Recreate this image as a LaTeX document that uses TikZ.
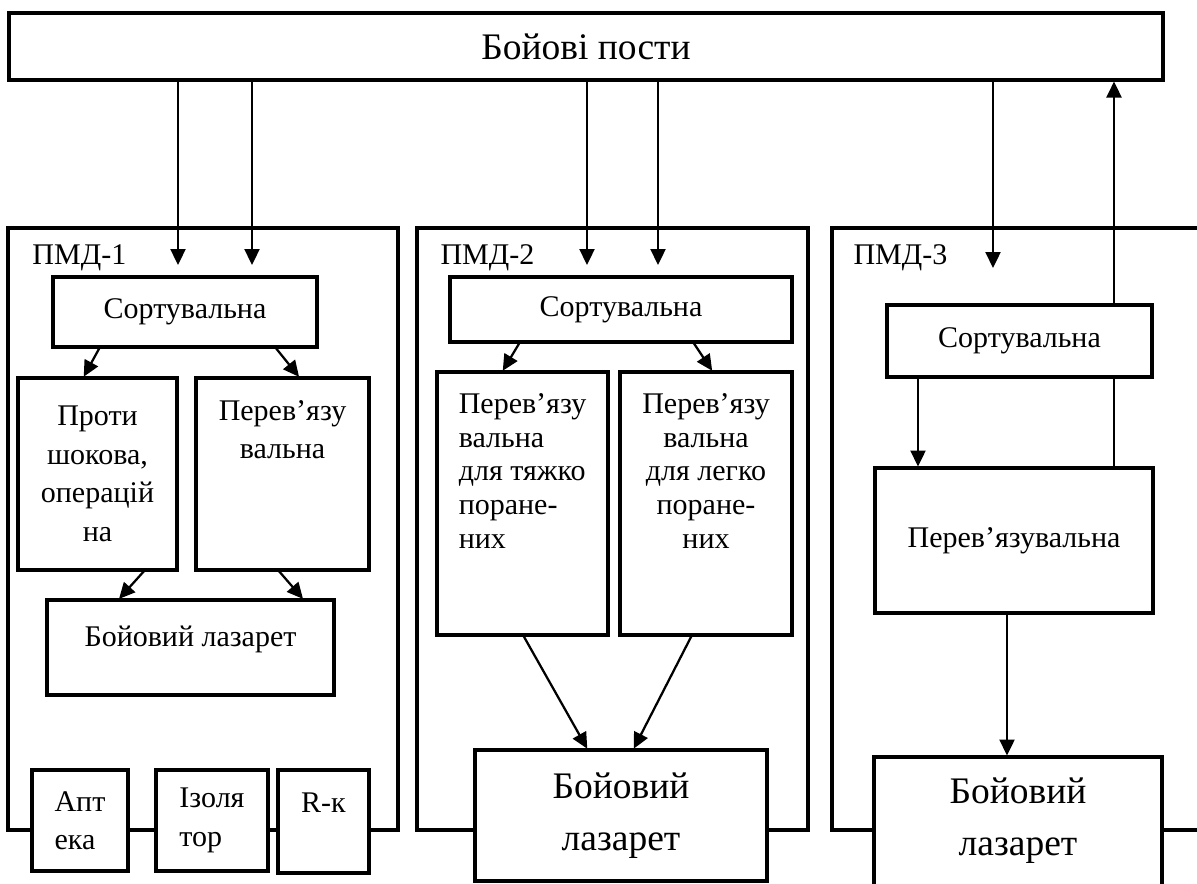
\documentclass[tikz,border=0pt]{standalone}
\usepackage{fontspec}
\setmainfont{Liberation Serif}
\usetikzlibrary{arrows.meta}

\begin{document}
\begin{tikzpicture}[x=0.4pt, y=-0.4pt, >={Triangle[length=6.4pt,width=6pt]},
    box/.style={rectangle, draw, line width=1.6pt, fill=white, inner sep=0pt, outer sep=0pt, align=center, font=\fontsize{12}{15.4}\selectfont},
    frame/.style={rectangle, draw, line width=1.6pt, inner sep=0pt, outer sep=0pt},
    sz/.style 2 args={minimum width=#1*0.4pt, minimum height=#2*0.4pt},
    tag/.style={anchor=west, inner sep=0pt, font=\fontsize{12}{15}\selectfont},
    toplab/.style={anchor=north, align=center, inner sep=0pt, yshift=-8.8pt, font=\fontsize{12}{15.4}\selectfont},
    big/.style={font=\fontsize{15}{21}\selectfont},
    arr/.style={->, line width=0.9pt, shorten >=0.6pt}]
    \useasboundingbox (0,0) rectangle (1197,883);

    % Combat posts
    \node[box, big, sz={1154}{67}] (top) at (586,46.5) {Бойові пости};

    % PMD-1
    \node[frame, sz={390}{602}] (pmd1) at (203,529) {};
    \node[tag] (tag1) at (32,258) {ПМД-1};
    \node[box, sz={264}{70}] (sort1) at (185,312) {Сортувальна};
    \node[box, sz={159}{192}] (shock) at (97.5,474) {Проти\\шокова,\\операцій\\на};
    \node[box, sz={173}{192}, label={[toplab]north:Перев’язу\\вальна}] (dress1) at (282.5,474) {};
    \node[box, sz={287}{95}, label={[toplab, yshift=-1.2pt]north:Бойовий лазарет}] (bl1) at (190.5,647.5) {};
    \node[box, sz={96}{101}, align=left] (apt) at (80,820.5) {Апт\\ека};
    \node[box, sz={112}{101}, align=left] (izol) at (212,820.5) {Ізоля\\тор};
    \node[box, sz={91}{103}, label={[toplab]north:R-к}] (rk) at (323.5,821.5) {};

    \draw[arr] ([xshift=18.8pt]sort1.south west) -- ([xshift=26pt]shock.north west);
    \draw[arr] ([xshift=88.8pt]sort1.south west) -- ([xshift=41.6pt]dress1.north west);
    \draw[arr] ([xshift=50.8pt]shock.south west) -- ([xshift=28.4pt]bl1.north west);
    \draw[arr] ([xshift=32.8pt]dress1.south west) -- ([xshift=102.8pt]bl1.north west);

    % PMD-2
    \node[frame, sz={391}{602}] (pmd2) at (612.5,529) {};
    \node[tag] (tag2) at (440,258) {ПМД-2};
    \node[box, sz={342}{65}] (sort2) at (621,309.5) {Сортувальна};
    \node[box, sz={171}{263}, label={[toplab, align=left, yshift=0.4pt, font=\fontsize{12}{13.5}\selectfont]north:Перев’язу\\вальна\\для тяжко\\поране-\\них}] (heavy) at (522.5,503.5) {};
    \node[box, sz={172}{263}, label={[toplab, yshift=0.4pt, font=\fontsize{12}{13.5}\selectfont]north:Перев’язу\\вальна\\для легко\\поране-\\них}] (light) at (706,503.5) {};
    \node[box, big, sz={292}{131}] (bl2) at (621,815.5) {Бойовий\\лазарет};

    \draw[arr] ([xshift=28pt]sort2.south west) -- ([xshift=26pt]heavy.north west);
    \draw[arr] ([xshift=97.2pt]sort2.south west) -- ([xshift=37.2pt]light.north west);
    \draw[arr] ([xshift=34.4pt]heavy.south west) -- ([xshift=45.2pt]bl2.north west);
    \draw[arr] ([xshift=28.8pt]light.south west) -- ([xshift=63.2pt]bl2.north west);

    % PMD-3 (open to the right)
    \draw[line width=1.6pt] (1210,228) -| (832,830) -- (1210,830);
    \node[tag] (tag3) at (853,258) {ПМД-3};
    \node[box, sz={265}{72}] (sort3) at (1019.5,341) {Сортувальна};
    \node[box, sz={278}{145}] (dress3) at (1014,540.5) {Перев’язувальна};
    \node[box, sz={288}{138}, label={[toplab, yshift=0.8pt, font=\fontsize{15}{21}\selectfont]north:Бойовий\\лазарет}] (bl3) at (1018,826) {};

    \draw[arr] (sort3.south -| 918,0) -- (dress3.north -| 918,0);
    \draw[arr] (dress3.south -| 1007,0) -- (bl3.north -| 1007,0);
    \draw[line width=0.9pt] (dress3.north -| 1114,0) -- (sort3.south -| 1114,0);
    \draw[arr] (sort3.north -| 1114,0) -- (top.south -| 1114,0);

    % from the combat posts
    \foreach \x/\n in {178/sort1, 252/sort1, 587/sort2, 658/sort2}
        \draw[arr, shorten >=4.8pt] (top.south -| \x,0) -- (\n.north -| \x,0);
    \draw[arr, shorten >=14.8pt] (top.south -| 993,0) -- (sort3.north -| 993,0);
\end{tikzpicture}
\end{document}
